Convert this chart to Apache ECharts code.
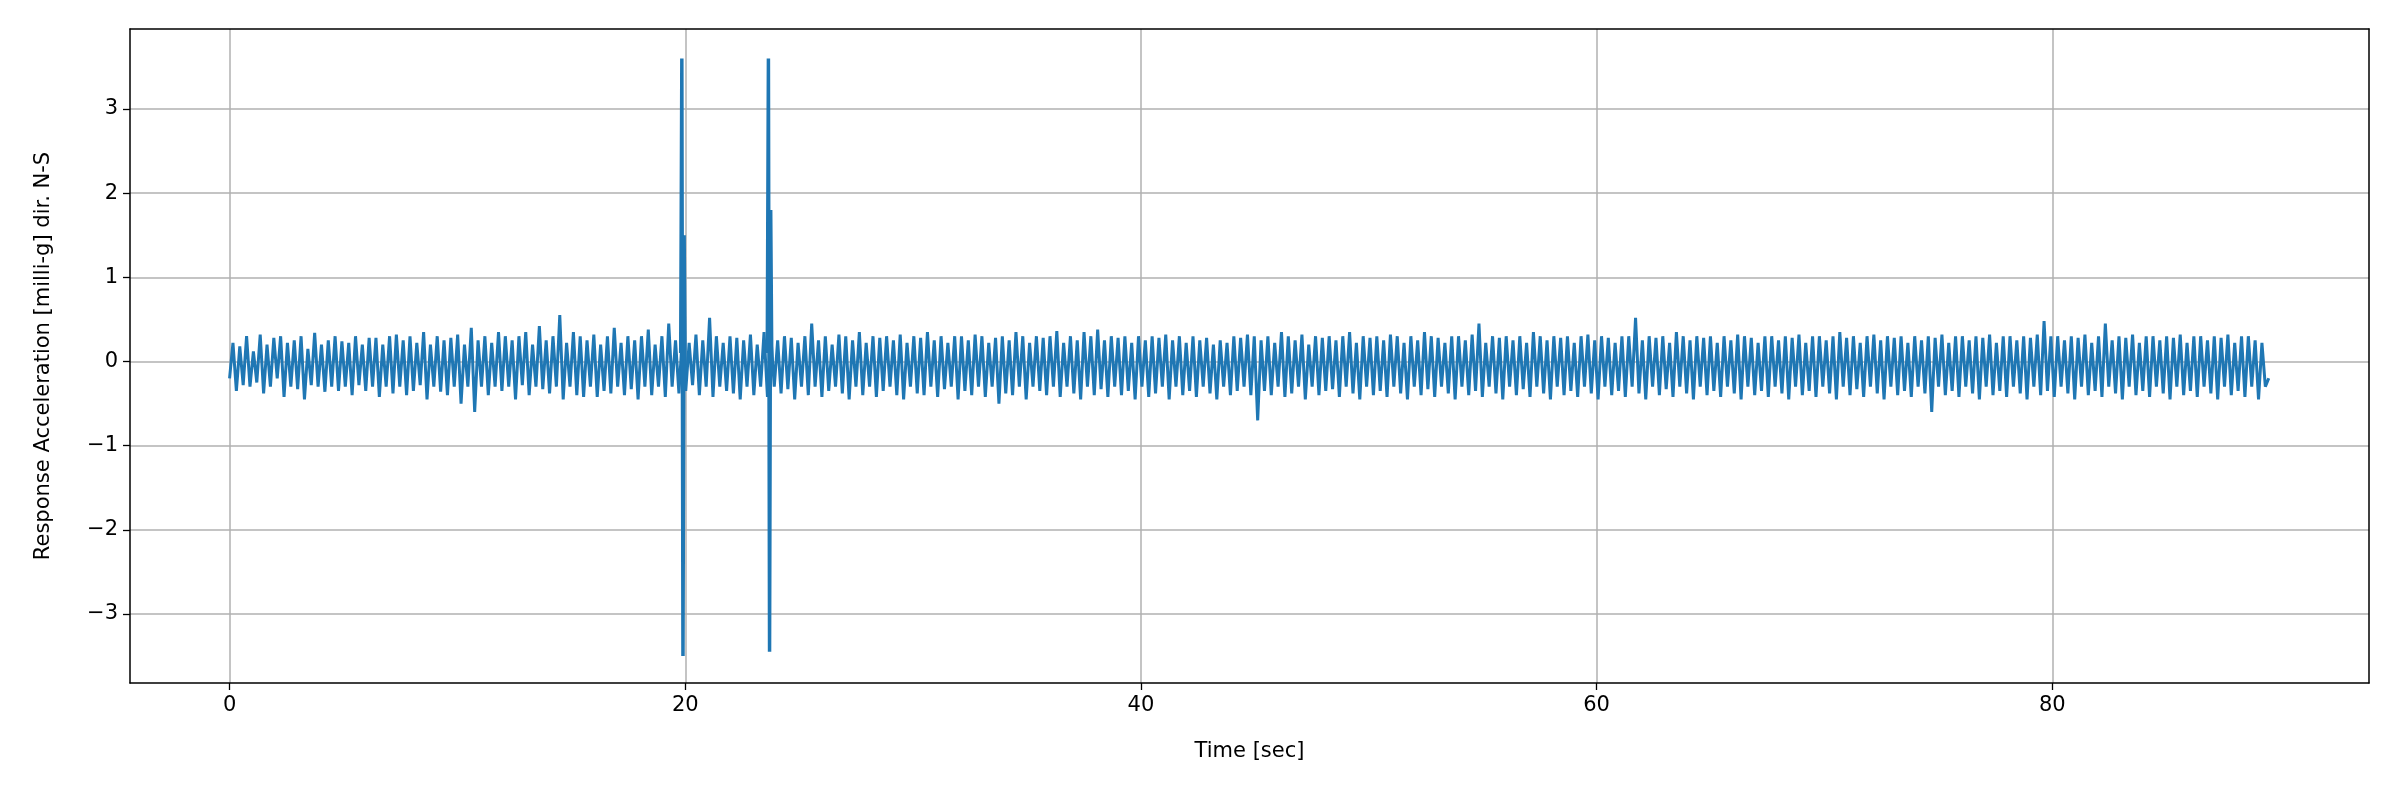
<!DOCTYPE html>
<html>
<head>
<meta charset="utf-8">
<script src="https://cdn.jsdelivr.net/npm/echarts@6/dist/echarts.min.js"></script>
<style>html,body{margin:0;padding:0;background:#fff}#chart{width:2400px;height:800px}</style>
</head>
<body>
<div id="chart"></div>
<script>
// record length [sec]
var duration = 89.5;
// background response, in hundredths of a milli-g
var noiseCenti = [
 -20,22,-35,18,-28,30,-30,12,-25,32,-38,20,-30,28,-20,30,-42,22,-30,25,-33,30,-45,15,-28,34,-30,20,-36,25,
 -30,30,-35,24,-30,22,-40,30,-28,20,-35,28,-30,28,-42,20,-30,30,-38,32,-30,25,-40,30,-35,22,-28,35,-45,20,
 -30,30,-36,25,-40,28,-30,32,-50,20,-30,40,-60,25,-30,30,-40,22,-30,35,-35,30,-30,25,-45,30,-28,35,-40,20,
 -30,42,-33,25,-38,30,-30,55,-45,22,-30,35,-40,30,-42,25,-30,32,-42,20,-35,30,-38,40,-30,22,-40,30,-33,25,
 -45,30,-30,38,-40,20,-30,30,-42,45,-30,25,-38,30,-35,22,-28,32,-40,25,-30,52,-42,30,-30,22,-35,30,-38,28,
 -45,25,-30,32,-40,20,-30,35,-42,30,-30,25,-38,30,-33,28,-45,22,-30,30,-40,45,-30,25,-42,30,-35,20,-30,32,
 -38,30,-45,25,-30,35,-40,22,-30,30,-42,28,-35,30,-30,25,-40,32,-45,22,-30,30,-38,28,-40,35,-30,25,-42,30,
 -33,22,-30,30,-45,30,-35,25,-40,32,-30,30,-42,22,-30,28,-50,30,-38,25,-40,35,-30,30,-45,22,-30,30,-35,28,
 -40,30,-30,36,-42,22,-30,30,-38,25,-45,35,-30,30,-40,38,-33,25,-42,30,-30,28,-40,30,-35,22,-45,30,-30,25,
 -42,30,-38,28,-30,32,-45,25,-30,30,-40,22,-35,30,-42,25,-30,28,-38,20,-45,25,-30,22,-40,30,-35,28,-30,32,
 -40,30,-70,25,-35,30,-40,22,-30,35,-42,30,-38,25,-30,32,-45,20,-30,30,-40,28,-35,30,-33,25,-42,30,-30,35,
 -38,22,-45,30,-30,28,-40,30,-35,25,-42,32,-30,30,-38,22,-45,30,-30,25,-40,35,-33,30,-42,28,-30,22,-38,30,
 -45,30,-30,25,-40,32,-35,45,-42,22,-30,30,-38,28,-45,30,-30,25,-40,30,-33,22,-42,35,-30,30,-38,25,-45,30,
 -30,28,-40,30,-35,22,-42,30,-30,32,-38,25,-45,30,-30,28,-40,22,-35,30,-42,30,-30,52,-38,25,-45,30,-30,28,
 -40,30,-33,22,-42,35,-30,30,-38,25,-45,30,-30,28,-40,30,-35,22,-42,30,-30,25,-38,32,-45,30,-30,28,-40,22,
 -35,30,-42,30,-30,25,-38,30,-45,28,-30,32,-40,22,-35,30,-42,30,-30,25,-38,30,-45,35,-30,28,-40,30,-33,22,
 -42,30,-30,32,-38,25,-45,30,-30,28,-40,30,-35,22,-42,30,-30,25,-38,30,-60,28,-30,32,-40,22,-35,30,-42,30,
 -30,25,-38,30,-45,28,-30,32,-40,22,-35,30,-42,30,-30,25,-38,30,-45,28,-30,32,-40,48,-35,30,-42,30,-30,25,
 -38,30,-45,28,-30,32,-40,22,-35,30,-42,45,-30,25,-38,30,-45,28,-30,32,-40,22,-35,30,-42,30,-30,25,-38,30,
 -45,28,-30,32,-40,22,-35,30,-42,30,-30,25,-38,30,-45,28,-30,32,-40,22,-35,30,-42,30,-30,25,-45,22,-30,-20
];
// two impulse events
var spikeTimes = [19.8, 19.85, 19.9, 19.95, 20.0, 23.6, 23.65, 23.7, 23.75, 23.8];
var spikeVals  = [0.1, 3.6, -3.5, 1.5, -0.2, 0.1, 3.6, -3.45, 1.8, -0.1];
var xTicks = [0, 20, 40, 60, 80];
var yTicks = [-3, -2, -1, 0, 1, 2, 3];

var dt = duration / (noiseCenti.length - 1);
var noiseData = noiseCenti.map(function (v, i) { return [+(i * dt).toFixed(3), v / 100]; });
var spikeData = spikeTimes.map(function (t, i) { return [t, spikeVals[i]]; });

var chart = echarts.init(document.getElementById('chart'));
var font = 'DejaVu Sans';
var fs = 21;
var frame = { show: true, onZero: false, lineStyle: { color: '#000', width: 1.5 } };
var tick = function (vals) { return { show: true, customValues: vals, length: 7, lineStyle: { color: '#000', width: 1.3 } }; };
var grid = { show: true, lineStyle: { color: '#b0b0b0', width: 1.5 } };
chart.setOption({
  animation: false,
  grid: { left: 130, right: 31, top: 29, bottom: 117 },
  xAxis: [{
    type: 'value', min: -4.37, max: 93.9,
    name: 'Time [sec]', nameLocation: 'middle', nameGap: 58,
    nameTextStyle: { color: '#000', fontSize: fs, fontFamily: font },
    axisLine: frame, axisTick: tick(xTicks),
    axisLabel: { customValues: xTicks, color: '#000', fontSize: fs, fontFamily: font, margin: 12 },
    splitLine: grid
  }, {
    type: 'value', position: 'top', min: -4.37, max: 93.9,
    axisLine: frame, axisTick: { show: false }, axisLabel: { show: false }, splitLine: { show: false }
  }],
  yAxis: [{
    type: 'value', min: -3.82, max: 3.95,
    name: 'Response Acceleration [milli-g] dir. N-S', nameLocation: 'middle', nameGap: 76,
    nameTextStyle: { color: '#000', fontSize: fs, fontFamily: font },
    axisLine: frame, axisTick: tick(yTicks),
    axisLabel: { customValues: yTicks, color: '#000', fontSize: fs, fontFamily: font, margin: 12,
      formatter: function (v) { return v < 0 ? '\u2212' + Math.abs(v) : String(v); } },
    splitLine: grid
  }, {
    type: 'value', position: 'right', min: -3.82, max: 3.95,
    axisLine: frame, axisTick: { show: false }, axisLabel: { show: false }, splitLine: { show: false }
  }],
  series: [
    { type: 'line', data: noiseData, showSymbol: false, lineStyle: { color: '#1f77b4', width: 3 } },
    { type: 'line', data: spikeData.slice(0, 5), showSymbol: false, lineStyle: { color: '#1f77b4', width: 3.5 } },
    { type: 'line', data: spikeData.slice(5), showSymbol: false, lineStyle: { color: '#1f77b4', width: 3.5 } }
  ]
});
</script>
</body>
</html>
